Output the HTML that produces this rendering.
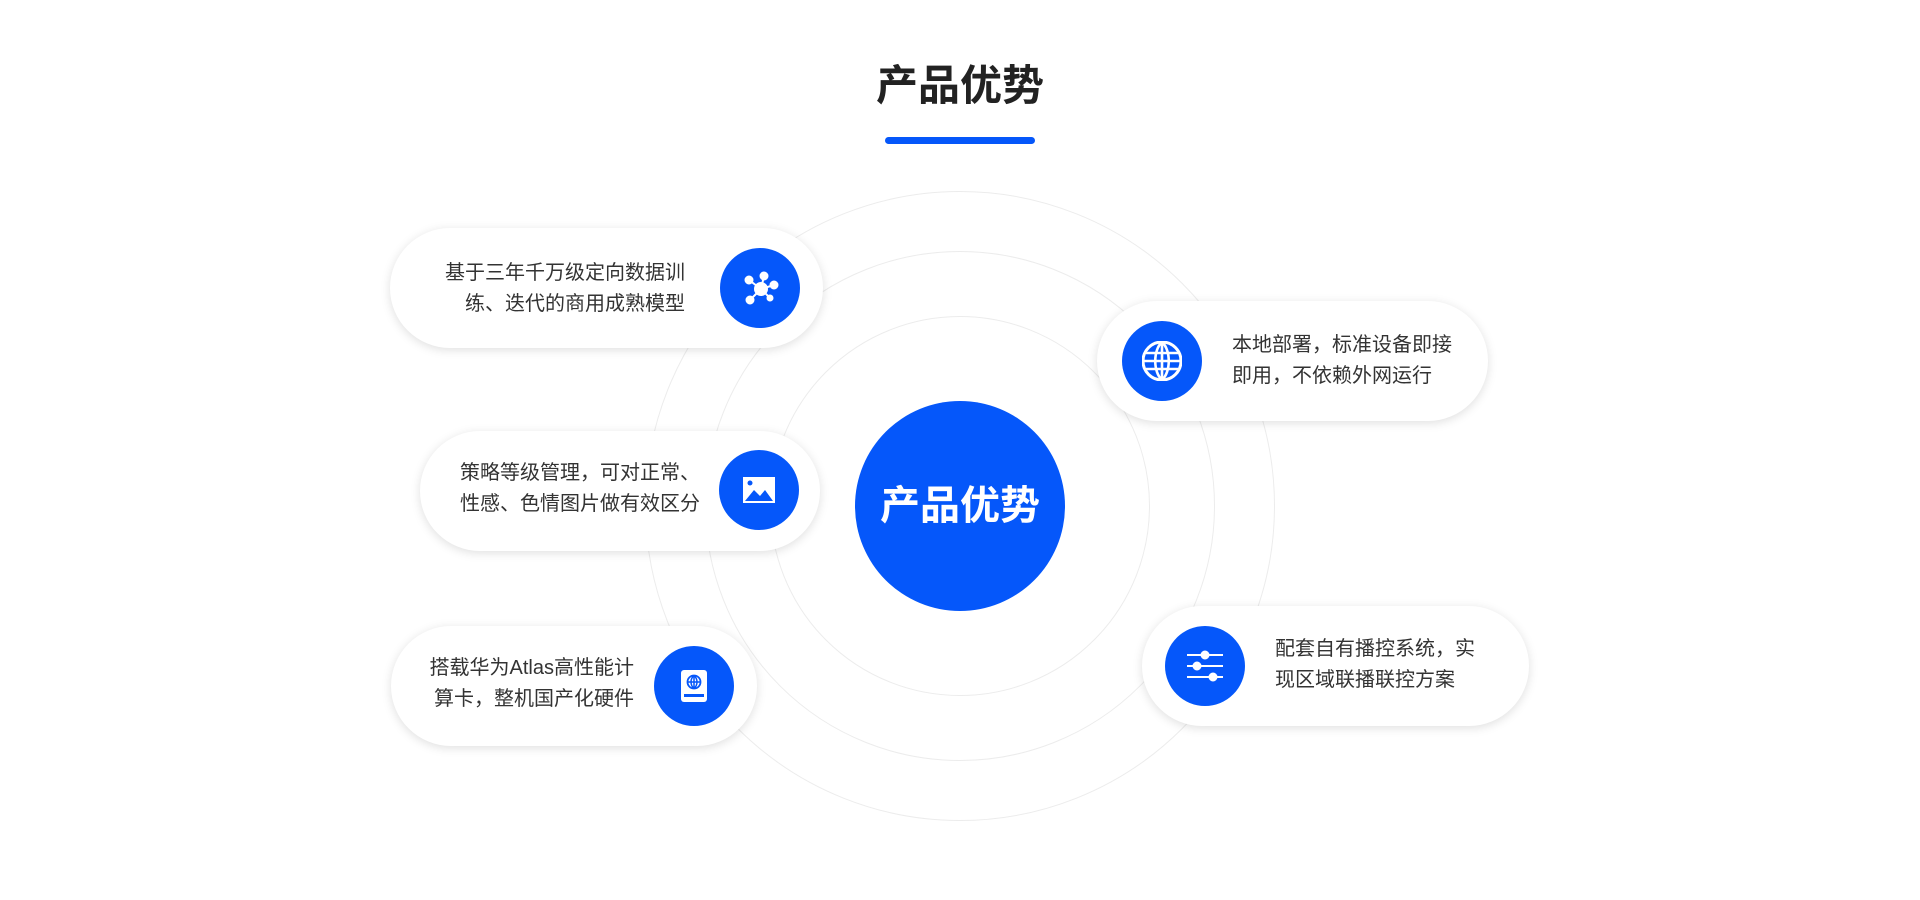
<!DOCTYPE html>
<html><head><meta charset="utf-8"><style>
*{margin:0;padding:0;box-sizing:border-box}
body{width:1920px;height:900px;background:#fff;position:relative;overflow:hidden;font-family:"Liberation Sans","Noto Sans CJK SC",sans-serif}
.title{position:absolute;left:0;width:1920px;top:60px;text-align:center;font-size:42px;font-weight:bold;color:#222;line-height:52px}
.bar{position:absolute;left:885px;top:137px;width:150px;height:7px;border-radius:4px;background:#0557fa}
.ring{position:absolute;border:1.5px solid #ececec;border-radius:50%}
.card{position:absolute;height:120px;border-radius:60px;background:#fff;box-shadow:0 2px 10px rgba(0,0,0,.13)}
.txt{position:absolute;font-size:20px;line-height:31px;color:#333;white-space:nowrap}
.ic{position:absolute;width:80px;height:80px;border-radius:50%;background:#0557fa}
.ic svg{position:absolute;left:20px;top:20px}
.center{position:absolute;left:855px;top:401px;width:210px;height:210px;border-radius:50%;background:#0557fa;color:#fff;font-size:40px;font-weight:bold;text-align:center;line-height:210px}
</style></head><body>
<div class="title">产品优势</div>
<div class="bar"></div>
<div class="ring" style="left:770px;top:316px;width:380px;height:380px"></div>
<div class="ring" style="left:705px;top:251px;width:510px;height:510px"></div>
<div class="ring" style="left:645px;top:191px;width:630px;height:630px"></div>
<div class="center">产品优势</div>

<div class="card" style="left:390px;top:228px;width:433px"></div>
<div class="txt" style="right:1235px;top:258px;text-align:right">基于三年千万级定向数据训<br>练、迭代的商用成熟模型</div>
<div class="ic" style="left:720px;top:248px"><svg width="40" height="40" viewBox="0 0 40 40" fill="#fff" stroke="#fff" stroke-width="2"><line x1="21" y1="21" x2="9" y2="12"/><line x1="21" y1="21" x2="24" y2="8"/><line x1="21" y1="21" x2="34" y2="17"/><line x1="21" y1="21" x2="10" y2="32"/><line x1="21" y1="21" x2="30" y2="30"/><circle cx="21" cy="21" r="6"/><circle cx="9" cy="12" r="3.5"/><circle cx="24" cy="8" r="3.5"/><circle cx="34" cy="17" r="3.5"/><circle cx="10" cy="32" r="3.5"/><circle cx="30" cy="30" r="2.5"/></svg></div>

<div class="card" style="left:420px;top:431px;width:400px"></div>
<div class="txt" style="left:460px;top:458px">策略等级管理，可对正常、<br>性感、色情图片做有效区分</div>
<div class="ic" style="left:719px;top:450px"><svg width="40" height="40" viewBox="0 0 40 40"><rect x="4" y="7" width="32" height="26" fill="#fff"/><path d="M6 31 L15 20 L21 26 L26 20 L34 31 Z" fill="#0557fa"/><circle cx="11" cy="13" r="2.5" fill="#0557fa"/></svg></div>

<div class="card" style="left:391px;top:626px;width:366px"></div>
<div class="txt" style="right:1286px;top:653px;text-align:right">搭载华为Atlas高性能计<br>算卡，整机国产化硬件</div>
<div class="ic" style="left:654px;top:646px"><svg width="40" height="40" viewBox="0 0 40 40"><rect x="7" y="4" width="26" height="32" rx="3" fill="#fff"/><circle cx="20" cy="16" r="6.5" fill="none" stroke="#0557fa" stroke-width="1.8"/><path d="M13.5 16H26.5M20 9.5V22.5M20 9.5C16 13 16 19 20 22.5M20 9.5C24 13 24 19 20 22.5" fill="none" stroke="#0557fa" stroke-width="1.5"/><rect x="10" y="28" width="20" height="3" fill="#0557fa"/></svg></div>

<div class="card" style="left:1097px;top:301px;width:391px"></div>
<div class="txt" style="left:1232px;top:330px">本地部署，标准设备即接<br>即用，不依赖外网运行</div>
<div class="ic" style="left:1122px;top:321px"><svg width="40" height="40" viewBox="0 0 40 40" fill="none" stroke="#fff" stroke-width="3"><circle cx="20" cy="20" r="19"/><path d="M1 20H39M20 1V39M20 1C11 9 11 31 20 39M20 1C29 9 29 31 20 39M4 12H36M4 28H36" stroke-width="2.6"/></svg></div>

<div class="card" style="left:1142px;top:606px;width:387px"></div>
<div class="txt" style="left:1275px;top:634px">配套自有播控系统，实<br>现区域联播联控方案</div>
<div class="ic" style="left:1165px;top:626px"><svg width="40" height="40" viewBox="0 0 40 40" fill="#fff" stroke="#fff" stroke-width="2"><line x1="2" y1="9" x2="38" y2="9"/><line x1="2" y1="20" x2="38" y2="20"/><line x1="2" y1="31" x2="38" y2="31"/><circle cx="20" cy="9" r="3.5"/><circle cx="12" cy="20" r="3.5"/><circle cx="28" cy="31" r="3.5"/></svg></div>
</body></html>
